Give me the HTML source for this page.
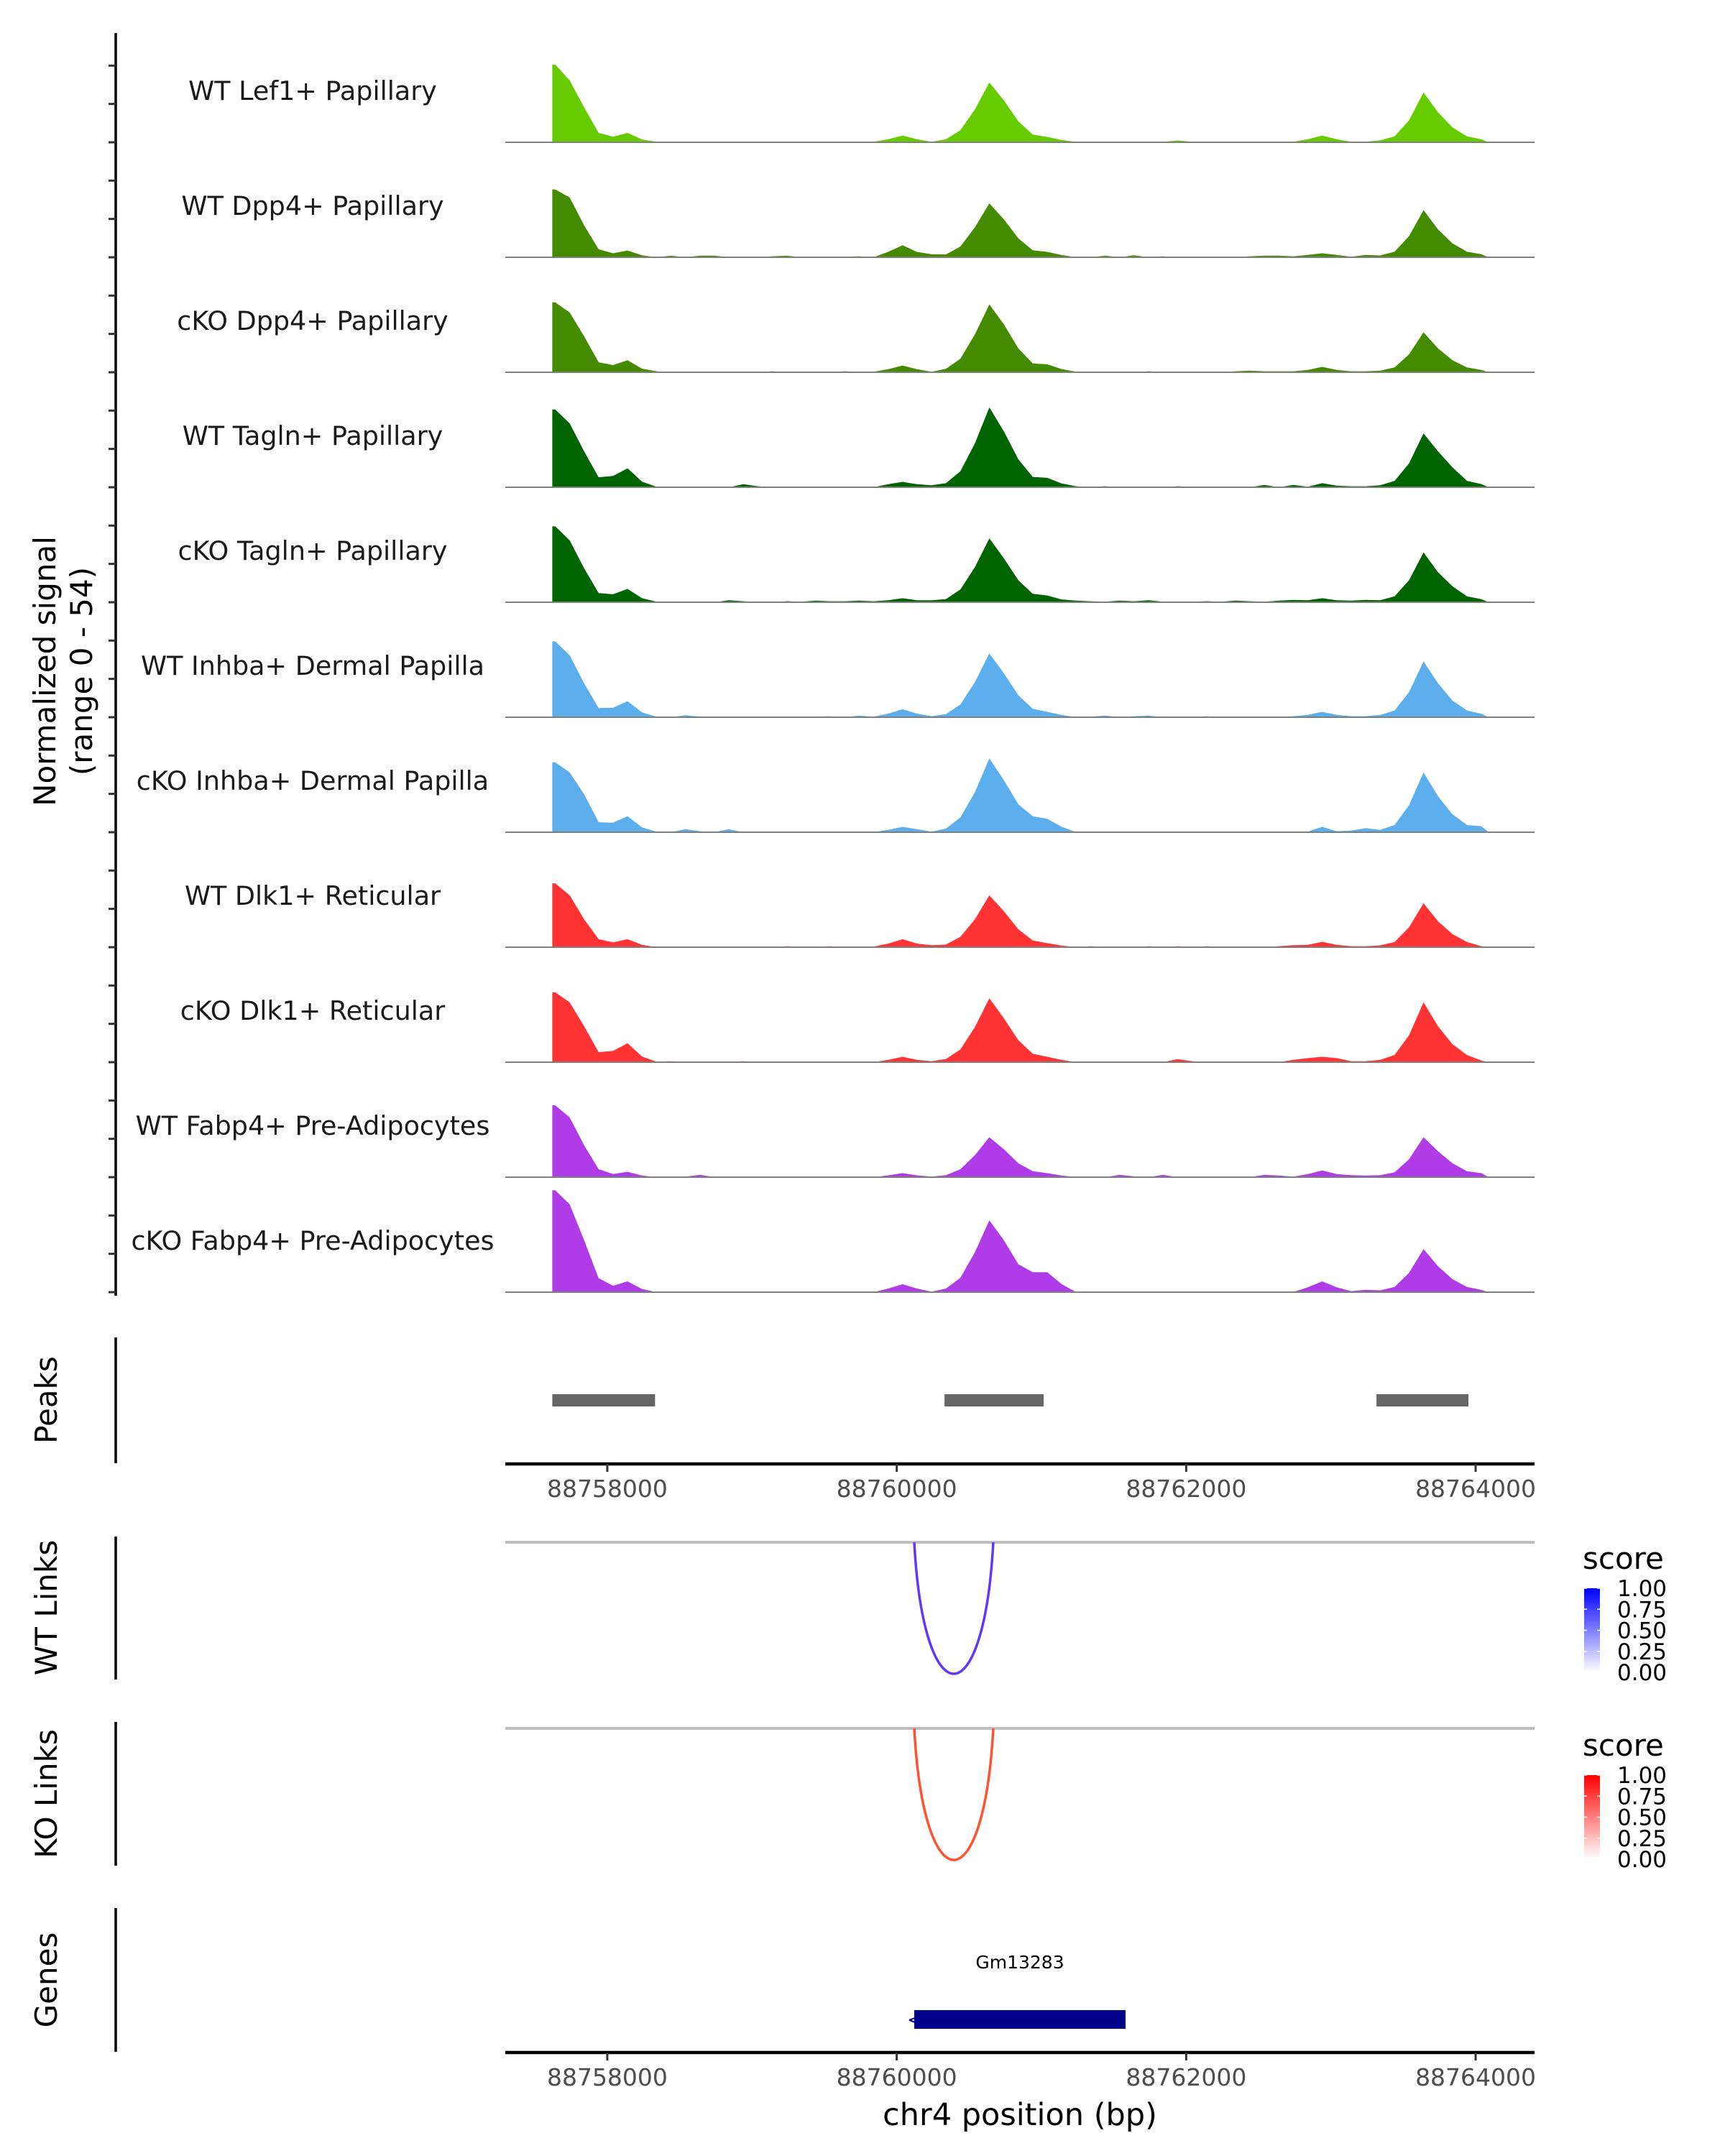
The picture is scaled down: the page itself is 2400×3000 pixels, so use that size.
<!DOCTYPE html>
<html><head><meta charset="utf-8"><style>
html,body{margin:0;padding:0;background:#fff;}
svg{display:block;font-family:"DejaVu Sans","Liberation Sans",sans-serif;}
</style></head><body>
<svg id="chart" width="2400" height="3000" viewBox="0 0 2400 3000" xmlns="http://www.w3.org/2000/svg"></svg>
<script>
// ---- data ----
const binStart = 88757590;
const binSize = 100;
const trackNames = ["WT Lef1+ Papillary","WT Dpp4+ Papillary","cKO Dpp4+ Papillary","WT Tagln+ Papillary","cKO Tagln+ Papillary","WT Inhba+ Dermal Papilla","cKO Inhba+ Dermal Papilla","WT Dlk1+ Reticular","cKO Dlk1+ Reticular","WT Fabp4+ Pre-Adipocytes","cKO Fabp4+ Pre-Adipocytes"];
const trackColors = ["#66cc00","#458b00","#458b00","#006400","#006400","#5caeec","#5caeec","#ff3333","#ff3333","#b03ce8","#b03ce8"];
const sigLef1WT = [39,31,17.5,4.7,2.8,4.7,1.4, 0.3,0,0,0,0.2,0.3,0.2,0.3,0,0,0,0.2,0,0,0,0.3, 1.5,3.4,1.5,0.3, 1.5,6,16.5,30,21,10.5,3.9, 2.7,1.1, 0.2,0,0.3,0,0.3,0,0.2,0.9,0.3,0,0,0,0.2,0,0.2,0.3, 1.5,3.4,1.5,0.3,0.3, 1,3,11,25,15,7.5,3,1.5];
const sigDpp4WT = [34,30,16,4,2,3.4,1, 0,0.8,0,0.8,0.8,0,0,0,0.5,0.8,0,0,0,0.3,0.5,0, 2.7,6,2.7,1.5, 1.4,5.4,15,27,19,9.5,3.5, 2.7,1.1, 0,0,0.8,0,1,0,0.5,0,0,0,0.2,0,0.5,0.8,0.8,0.5, 1.2,2,1.2,0.3,1.2, 0.9,2.8,10.6,23.6,14,7,2.8,1.5];
const sigDpp4KO = [35,30,18,5,3.6,6,1.8, 0.5,0,0,0.3,0,0,0,0,0.5,0,0.3,0,0,0.5,0,0.3, 1.5,3.4,1.5,0.3, 1.7,6.8,19,34,24,12,4.4, 4,1.6, 0.3,0,0,0.3,0,0.5,0,0,0,0.3,0,0.5,0.8,0.5,0.5,0.5, 1.2,2.7,1.2,0.5,0.5, 0.8,2.4,9,20,12,6,2.4,1.2];
const sigTaglnWT = [39,32,18,5,5.7,9.5,2.8, 0.3,0,0,0,0,0,1.5,0.5,0,0,0,0,0,0,0,0, 1.5,2.7,1.5,1, 2,8,22,40,28,14,5.2, 4.7,1.9, 0.5,0,0.5,0,0.3,0,0,0.5,0,0,0,0,0,1.2,0,1.2, 0.3,2,0.8,0.5,0.5, 1,3.2,12,27,18,10,3.2,1.6];
const sigTaglnKO = [38,31,17,4.6,4,6.7,2, 0.3,0,0,0.3,0,1,0.5,0,0,0.5,0.3,0.8,0.5,0.5,0.8,0.5, 1,2,1,1, 1.6,6.4,17.6,32,22,11,4.2, 3.4,1.4, 0.8,0.5,0.3,0.8,0.5,1,0.3,0,0.3,0.5,0.3,0.8,0.5,0.3,0.8,1.2, 1,2,1,0.8,1.2, 1,3,11,25,15,8,3,1.5];
const sigInhbaWT = [38,31,17,4.6,4.8,8,2.4, 0.3,0,1,0.3,0,0,0.3,0,0,0,0,0.3,0.5,0,0.8,0.3, 1.8,4,1.8,0.5, 1.6,6.4,17.6,32,22,11,4.2, 2.7,1.1, 0,0.3,0.8,0,0.5,0.8,0,0.3,0,0.5,0,0.3,0,0.3,0,0.5, 1.2,2.7,1.2,0.5,0.5, 1.1,3.4,12.6,28,17,8.4,3.4,1.7];
const sigInhbaKO = [35,30,19,5,4.8,8,2.4, 0.3,0,1.5,0.5,0,1.5,0,0,0,0,0,0,0,0,0,0, 1.2,2.7,1.5,0.3, 1.8,7.4,20,37,26,14,8, 6.7,2.7, 0,0,0,0,0,0,0,0,0,0,0,0,0,0,0,0, 0.3,2.7,0.5,0.8,2, 1.2,3.6,13.5,30,18,9,3.6,3];
const sigDlk1WT = [32,26,14,4,2.4,4,1.2, 0,0,0,0,0,0,0,0,0,0.5,0,0,0.5,0,0,0.3, 1.8,4,1.8,1, 1.3,5.2,14,26,18,9,3.4, 2,0.8, 0,0.5,0,0,0,0.5,0,0.5,0,0.5,0,0,0.3,0,0.5,1, 1.2,2.7,1.2,0.5,0.5, 0.9,2.6,10,22,13,6.6,2.6,0.5];
const sigDlk1KO = [35,30,18,5,5.7,9.5,2.8, 0.3,0.5,0,0,0,0,0.5,0,0.3,0,0,0,0,0,0,0, 1.2,2.7,1.2,0.5, 1.6,6.4,17.6,32,22,11,4.2, 2.7,1.1, 0,0.3,0,0,0,0,0,1.5,0.5,0,0,0,0,0,0,1.2, 2,2.7,2,0.5,0.5, 1.2,3.6,13.5,30,18,9,3.6,0.8];
const sigFabp4WT = [36,30,16,4,1.6,2.7,0.8, 0,0.3,0.3,1.2,0,0,0,0,0,0,0,0,0,0,0,0, 0.9,2,0.9,0.3, 1,4,11,20,14,7,3, 2,0.8, 0,0,0,1.2,0.4,0,1.2,0,0,0,0,0,0,1.2,0.8,0.3, 1.5,3.4,1.5,1,0.8, 1,2.4,9,20,13,7,3,2];
const sigFabp4KO = [51,44,26,7,3.2,5.4,1.6, 0,0,0,0,0,0,0,0,0,0,0,0,0,0,0,0, 1.8,4,1.8,0.3, 1.8,7.2,20,36,26,14,10, 10,4, 0,0,0,0,0,0,0,0,0,0,0,0,0,0,0,0, 2.4,5.4,2.4,0.5,1.2, 0.9,2.6,9.7,21.6,13,6.5,2.6,1.1];
const signals = [sigLef1WT,sigDpp4WT,sigDpp4KO,sigTaglnWT,sigTaglnKO,sigInhbaWT,sigInhbaKO,sigDlk1WT,sigDlk1KO,sigFabp4WT,sigFabp4KO];
const peakStarts = [88757620, 88760330, 88763315];
const peakEnds = [88758330, 88761015, 88763950];
const xTicks = [88758000, 88760000, 88762000, 88764000];
const wtLinkStart = [88760121];
const wtLinkEnd = [88760667];
const wtLinkScore = [0.8];
const koLinkStart = [88760121];
const koLinkEnd = [88760667];
const koLinkScore = [0.8];
const geneNames = ["Gm13283"];
const geneStarts = [88760121];
const geneEnds = [88761581];
const legendTicks = ["1.00","0.75","0.50","0.25","0.00"];

// ---- scales ----
const svg = document.getElementById('chart');
const NS = 'http://www.w3.org/2000/svg';
const X0 = 703, X1 = 2135, BP0 = 88757295, BP1 = 88764407;
function xs(bp){ return X0 + (bp - BP0) / (BP1 - BP0) * (X1 - X0); }
const YMAX = 54, TRACK_H = 160, FIRST_BASE = 198, SIG_H = 150;
function ys(i, v){ return FIRST_BASE + i*TRACK_H - v / YMAX * SIG_H; }
function mk(tag, attrs, parent){ const e = document.createElementNS(NS, tag); for (const k in attrs) e.setAttribute(k, attrs[k]); (parent||svg).appendChild(e); return e; }
function txt(str, attrs){ const e = mk('text', attrs); e.textContent = str; return e; }

// ---- main y axis ----
let el = mk('line', {x1:161, y1:46, x2:161, y2:1803, stroke:'#000', 'stroke-width':3.5});


for (let i = 0; i < signals.length; i++) {
  for (let k = 0; k < 3; k++) {
    const y = FIRST_BASE + i*TRACK_H - k*TRACK_H/3;
    const t = mk('line', {x1:151, y1:y, x2:161, y2:y, stroke:'#333', 'stroke-width':3});
    
    
  }
}
el = txt('Normalized signal', {x:0, y:0, 'font-size':42, fill:'#000', 'text-anchor':'middle', transform:'translate(77,934) rotate(-90)'});


el = txt('(range 0 - 54)', {x:0, y:0, 'font-size':42, fill:'#000', 'text-anchor':'middle', transform:'translate(128,934) rotate(-90)'});



// ---- coverage tracks ----
for (let i = 0; i < signals.length; i++) {
  const base = FIRST_BASE + i*TRACK_H;
  const s = signals[i];
  const x0 = xs(peakStarts[0]);
  let d = 'M' + x0.toFixed(1) + ',' + base + 'L' + x0.toFixed(1) + ',' + ys(i, s[0]).toFixed(1);
  for (let j = 0; j < s.length; j++) {
    const xc = Math.max(x0, xs(binStart + (j + 0.5)*binSize)), y = ys(i, s[j]);
    d += 'L' + xc.toFixed(1) + ',' + y.toFixed(1);
  }
  d += 'L' + xs(binStart + s.length*binSize).toFixed(1) + ',' + base + 'Z';
  const p = mk('path', {d:d, fill:trackColors[i]});
  
  
  const bl = mk('line', {x1:X0, y1:base, x2:X1, y2:base, stroke:'#7f7f7f', 'stroke-width':2});
  
  
  const lab = txt(trackNames[i], {x:435, y:base - 59, 'font-size':36.5, fill:'#1a1a1a', 'text-anchor':'middle'});
  
  
}

// ---- peaks ----
el = mk('line', {x1:161, y1:1861, x2:161, y2:2036, stroke:'#000', 'stroke-width':3.5});


el = txt('Peaks', {x:0, y:0, 'font-size':42, fill:'#000', 'text-anchor':'middle', transform:'translate(79,1948) rotate(-90)'});


for (let k = 0; k < peakStarts.length; k++) {
  const r = mk('rect', {x:xs(peakStarts[k]), y:1940, width:xs(peakEnds[k]) - xs(peakStarts[k]), height:17, fill:'#666666'});
  
  
}
function xAxis(y, name){
  const a = mk('line', {x1:X0, y1:y, x2:X1, y2:y, stroke:'#000', 'stroke-width':4.5});
  
  
  for (const t of xTicks) {
    const tk = mk('line', {x1:xs(t), y1:y, x2:xs(t), y2:y + 11, stroke:'#333', 'stroke-width':3});
    
    
    const tl = txt(String(t), {x:xs(t), y:y + 46, 'font-size':33, fill:'#4d4d4d', 'text-anchor':'middle'});
    
    
  }
}
xAxis(2037, 'peaks-x-axis');

// ---- links ----
function linkTrack(top, bottom, lineY, title, titleY, starts, ends, scores, color, legTop, gradId, c1, legName){
  const ax = mk('line', {x1:161, y1:top, x2:161, y2:bottom, stroke:'#000', 'stroke-width':3.5});
  
  
  const tt = txt(title, {x:0, y:0, 'font-size':42, fill:'#000', 'text-anchor':'middle', transform:'translate(79,' + titleY + ') rotate(-90)'});
  
  
  const gl = mk('line', {x1:X0, y1:lineY, x2:X1, y2:lineY, stroke:'#bebebe', 'stroke-width':4});
  
  
  for (let k = 0; k < starts.length; k++) {
    const xa = xs(starts[k]), xb = xs(ends[k]), depth = 183 * scores[k] / 0.8;
    const cy = lineY + depth * 4 / 3;
    const m1 = xa + (xb - xa) * 0.12, m2 = xb - (xb - xa) * 0.12;
    const arc = mk('path', {d:'M' + xa + ',' + lineY + ' C' + m1 + ',' + cy + ' ' + m2 + ',' + cy + ' ' + xb + ',' + lineY, fill:'none', stroke:color, 'stroke-width':3.5});
    
    
  }
  const defs = mk('defs', {});
  const g = mk('linearGradient', {id:gradId, x1:0, y1:1, x2:0, y2:0}, defs);
  mk('stop', {offset:0, 'stop-color':'#ffffff'}, g);
  mk('stop', {offset:1, 'stop-color':c1}, g);
  const st = txt('score', {x:2202, y:legTop - 27, 'font-size':42, fill:'#000'});
  
  
  const cb = mk('rect', {x:2204, y:legTop, width:22, height:117, fill:'url(#' + gradId + ')'});
  
  
  for (let k = 0; k < legendTicks.length; k++) {
    const y = legTop + k * 117 / 4;
    const lt = txt(legendTicks[k], {x:2250, y:y + 11, 'font-size':31, fill:'#000'});
    
    
    mk('line', {x1:2204, y1:y, x2:2208, y2:y, stroke:'#fff', 'stroke-width':1.5});
    mk('line', {x1:2222, y1:y, x2:2226, y2:y, stroke:'#fff', 'stroke-width':1.5});
  }
}
linkTrack(2138, 2337, 2146, 'WT Links', 2237, wtLinkStart, wtLinkEnd, wtLinkScore, '#6238f8', 2210, 'gradWT', '#0000ff', 'wt-links');
linkTrack(2396, 2596, 2405, 'KO Links', 2496, koLinkStart, koLinkEnd, koLinkScore, '#ff5233', 2470, 'gradKO', '#ff0000', 'ko-links');

// ---- genes ----
el = mk('line', {x1:161, y1:2655, x2:161, y2:2855, stroke:'#000', 'stroke-width':3.5});


el = txt('Genes', {x:0, y:0, 'font-size':42, fill:'#000', 'text-anchor':'middle', transform:'translate(79,2755) rotate(-90)'});


for (let k = 0; k < geneNames.length; k++) {
  const xa = xs(geneStarts[k]), xb = xs(geneEnds[k]);
  const r = mk('rect', {x:xa, y:2797, width:xb - xa, height:26, fill:'#00008b'});
  
  
  const ar = txt('<', {x:xa - 10, y:2819, 'font-size':26, fill:'#00008b'});
  
  
  const gl = txt(geneNames[k], {x:(xa + xb) / 2, y:2739, 'font-size':25, fill:'#000', 'text-anchor':'middle'});
  
  
}
xAxis(2856, 'genes-x-axis');
el = txt('chr4 position (bp)', {x:1419, y:2957, 'font-size':43, fill:'#000', 'text-anchor':'middle'});


</script>
</body></html>
